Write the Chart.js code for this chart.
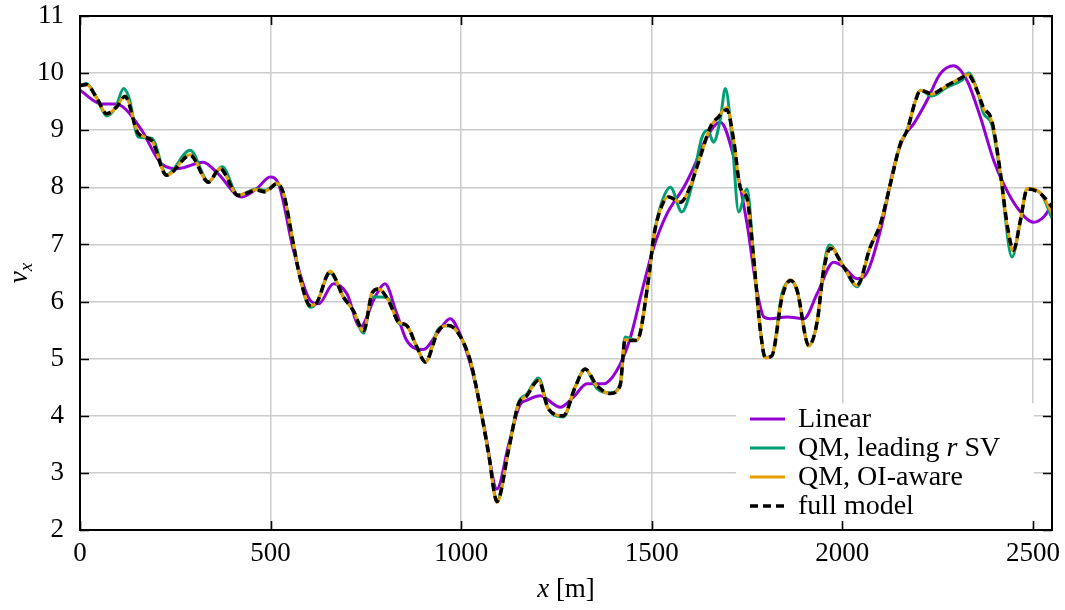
<!DOCTYPE html>
<html>
<head>
<meta charset="utf-8">
<script src="https://cdn.jsdelivr.net/npm/chart.js@4.4.1/dist/chart.umd.min.js"></script>
<style>
  html, body { margin: 0; padding: 0; background: #fff; }
  canvas { display: block; }
</style>
</head>
<body>
<canvas id="chart" width="1065" height="610"></canvas>
<script>
// Streamwise velocity v_x along the transect x [m]

// Axis ticks
const xTickValues = [0, 500, 1000, 1500, 2000, 2500];
const yTickValues = [2, 3, 4, 5, 6, 7, 8, 9, 10, 11];

// Linear reduced model
const linearX = [0, 57, 92, 118, 162, 214, 257, 323, 362, 424, 464, 499, 521, 560, 604, 626, 665, 700, 735, 774, 800, 831, 857, 901, 936, 971, 1000, 1031, 1062, 1094, 1124, 1155, 1172, 1207, 1260, 1295, 1330, 1373, 1408, 1443, 1475, 1505, 1540, 1584, 1610, 1636, 1662, 1680, 1715, 1750, 1776, 1794, 1811, 1855, 1899, 1934, 1977, 2003, 2039, 2056, 2100, 2135, 2161, 2187, 2222, 2257, 2292, 2327, 2362, 2397, 2423, 2458, 2502, 2528, 2550];
const linearV = [9.70, 9.46, 9.46, 9.38, 9.00, 8.41, 8.33, 8.44, 8.24, 7.83, 7.98, 8.18, 8.06, 6.90, 6.02, 5.96, 6.31, 6.14, 5.55, 6.08, 6.31, 5.79, 5.32, 5.16, 5.43, 5.70, 5.38, 4.73, 3.75, 2.72, 3.48, 4.20, 4.27, 4.35, 4.15, 4.33, 4.56, 4.56, 4.79, 5.35, 6.20, 6.95, 7.54, 8.00, 8.35, 8.76, 9.06, 9.14, 8.53, 7.36, 6.19, 5.73, 5.70, 5.73, 5.70, 6.14, 6.69, 6.61, 6.40, 6.43, 7.25, 8.35, 8.88, 9.11, 9.52, 9.99, 10.13, 9.87, 9.23, 8.47, 8.06, 7.65, 7.39, 7.48, 7.70];

// QM, leading r singular vectors
const leadX = [0, 17, 45, 70, 95, 114, 128, 153, 188, 227, 289, 337, 373, 415, 464, 486, 516, 534, 560, 577, 604, 621, 656, 691, 717, 744, 766, 790, 809, 836, 857, 884, 906, 940, 967, 993, 1024, 1050, 1072, 1094, 1124, 1150, 1172, 1203, 1229, 1268, 1299, 1325, 1356, 1391, 1417, 1430, 1461, 1491, 1505, 1522, 1549, 1579, 1602, 1632, 1647, 1662, 1680, 1693, 1710, 1728, 1750, 1767, 1785, 1798, 1815, 1842, 1864, 1881, 1912, 1934, 1951, 1966, 2003, 2039, 2073, 2100, 2126, 2152, 2170, 2192, 2205, 2234, 2274, 2314, 2331, 2353, 2370, 2392, 2415, 2445, 2467, 2485, 2520, 2550];
const leadV = [9.78, 9.82, 9.55, 9.25, 9.42, 9.73, 9.58, 8.88, 8.86, 8.22, 8.65, 8.10, 8.36, 7.86, 7.97, 7.95, 8.06, 7.89, 7.00, 6.43, 5.90, 5.98, 6.50, 6.08, 5.84, 5.45, 6.08, 6.08, 6.05, 5.62, 5.58, 5.20, 4.94, 5.52, 5.58, 5.44, 4.96, 4.15, 3.33, 2.52, 3.39, 4.22, 4.38, 4.66, 4.12, 3.98, 4.50, 4.82, 4.48, 4.40, 4.55, 5.38, 5.32, 6.37, 7.13, 7.65, 8.00, 7.57, 7.95, 8.88, 9.00, 8.79, 9.20, 9.73, 8.90, 7.57, 7.97, 6.80, 5.49, 5.02, 5.05, 6.15, 6.37, 6.20, 5.23, 5.65, 6.60, 6.99, 6.61, 6.26, 6.95, 7.36, 8.06, 8.76, 9.00, 9.52, 9.70, 9.60, 9.75, 9.88, 10.00, 9.72, 9.30, 9.10, 8.20, 6.78, 7.40, 7.97, 7.90, 7.46];

// QM, OI-aware
const oiX = [0, 17, 45, 70, 95, 118, 153, 188, 227, 289, 337, 367, 415, 464, 486, 516, 534, 560, 577, 604, 621, 656, 691, 717, 744, 766, 783, 809, 836, 857, 884, 906, 940, 967, 993, 1024, 1050, 1072, 1094, 1124, 1150, 1172, 1203, 1229, 1268, 1299, 1325, 1356, 1391, 1417, 1430, 1461, 1491, 1505, 1522, 1544, 1575, 1597, 1627, 1654, 1675, 1697, 1715, 1732, 1750, 1767, 1785, 1798, 1815, 1842, 1864, 1881, 1912, 1934, 1951, 1969, 2003, 2039, 2073, 2100, 2126, 2152, 2170, 2192, 2205, 2234, 2274, 2300, 2331, 2353, 2370, 2392, 2415, 2432, 2449, 2467, 2485, 2520, 2550];
const oiV = [9.78, 9.80, 9.55, 9.28, 9.40, 9.60, 8.95, 8.82, 8.21, 8.57, 8.09, 8.33, 7.86, 7.96, 7.93, 8.07, 7.89, 7.00, 6.43, 5.93, 5.98, 6.53, 6.08, 5.84, 5.48, 6.16, 6.22, 6.02, 5.64, 5.58, 5.20, 4.94, 5.50, 5.58, 5.44, 4.96, 4.15, 3.33, 2.48, 3.39, 4.20, 4.35, 4.62, 4.12, 4.00, 4.50, 4.82, 4.52, 4.39, 4.53, 5.33, 5.32, 6.37, 7.13, 7.60, 7.84, 7.74, 7.95, 8.53, 9.06, 9.24, 9.40, 8.82, 8.00, 7.80, 6.78, 5.49, 5.01, 5.05, 6.10, 6.38, 6.20, 5.22, 5.65, 6.57, 6.95, 6.61, 6.28, 6.95, 7.36, 8.06, 8.76, 9.00, 9.52, 9.70, 9.63, 9.78, 9.88, 9.97, 9.71, 9.38, 9.15, 8.23, 7.34, 6.88, 7.42, 7.98, 7.90, 7.55];

// Full model
const fullX = [0, 17, 45, 70, 95, 118, 153, 188, 227, 289, 337, 367, 415, 464, 486, 516, 534, 560, 577, 604, 621, 656, 691, 717, 744, 766, 783, 809, 836, 857, 884, 906, 940, 967, 993, 1024, 1050, 1072, 1094, 1124, 1150, 1172, 1203, 1229, 1268, 1299, 1325, 1356, 1391, 1417, 1430, 1461, 1491, 1505, 1522, 1544, 1575, 1597, 1627, 1654, 1675, 1697, 1715, 1732, 1750, 1767, 1785, 1798, 1815, 1842, 1864, 1881, 1912, 1934, 1951, 1969, 2003, 2039, 2073, 2100, 2126, 2152, 2170, 2192, 2205, 2234, 2274, 2300, 2331, 2353, 2370, 2392, 2415, 2432, 2449, 2467, 2485, 2520, 2550];
const fullV = [9.78, 9.80, 9.55, 9.29, 9.40, 9.59, 8.94, 8.82, 8.21, 8.56, 8.09, 8.33, 7.86, 7.95, 7.92, 8.06, 7.89, 7.00, 6.43, 5.93, 5.98, 6.52, 6.08, 5.84, 5.49, 6.14, 6.22, 6.02, 5.64, 5.58, 5.20, 4.94, 5.49, 5.58, 5.44, 4.96, 4.15, 3.33, 2.50, 3.39, 4.20, 4.35, 4.62, 4.12, 4.00, 4.50, 4.82, 4.53, 4.39, 4.53, 5.32, 5.32, 6.37, 7.13, 7.60, 7.83, 7.74, 7.95, 8.53, 9.06, 9.23, 9.36, 8.82, 8.00, 7.80, 6.78, 5.49, 5.02, 5.05, 6.08, 6.37, 6.20, 5.23, 5.65, 6.55, 6.93, 6.61, 6.29, 6.95, 7.36, 8.06, 8.76, 9.00, 9.52, 9.70, 9.64, 9.78, 9.87, 9.96, 9.70, 9.40, 9.17, 8.24, 7.36, 6.90, 7.42, 7.97, 7.89, 7.66];

const SERIF = '"Liberation Serif", "DejaVu Serif", serif';
const TICK_SIZE = 27;
const LEGEND_SIZE = 28;
const zip = (xs, ys) => xs.map((x, i) => ({ x: x, y: ys[i] }));

function series(label, xs, ys, color, order, extra) {
  return Object.assign({
    label: label,
    data: zip(xs, ys),
    borderColor: color,
    backgroundColor: color,
    borderWidth: 3,
    pointRadius: 0,
    pointHoverRadius: 0,
    cubicInterpolationMode: 'monotone',
    borderJoinStyle: 'round',
    fill: false,
    order: order
  }, extra || {});
}

// Frame, inward ticks, legend box and axis titles
const decorations = {
  id: 'decorations',
  afterDraw(chart) {
    const ctx = chart.ctx;
    const a = chart.chartArea;
    const xs = chart.scales.x, ys = chart.scales.y;
    ctx.save();

    // legend box
    const bx = 736, by = 403, bw = 298, bh = 124;
    ctx.fillStyle = '#ffffff';
    ctx.fillRect(bx, by, bw, bh);
    const rowY0 = 419, rowStep = 29;
    const sx0 = 750, sx1 = 785, tx = 798;
    ctx.textBaseline = 'middle';
    ctx.textAlign = 'left';
    const legendParts = [
      [['Linear', false]],
      [['QM, leading ', false], ['r', true], [' SV', false]],
      [['QM, OI-aware', false]],
      [['full model', false]]
    ];
    chart.data.datasets.forEach((ds, i) => {
      const yy = rowY0 + i * rowStep;
      ctx.strokeStyle = ds.borderColor;
      ctx.lineWidth = ds.borderWidth;
      ctx.setLineDash(ds.borderDash || []);
      ctx.beginPath();
      ctx.moveTo(sx0, yy);
      ctx.lineTo(sx1, yy);
      ctx.stroke();
      ctx.setLineDash([]);
      let cx = tx;
      ctx.fillStyle = '#000';
      legendParts[i].forEach(([txt, it]) => {
        ctx.font = (it ? 'italic ' : '') + LEGEND_SIZE + 'px ' + SERIF;
        ctx.fillText(txt, cx, yy + 1);
        cx += ctx.measureText(txt).width;
      });
    });

    // frame
    ctx.strokeStyle = '#000';
    ctx.lineWidth = 2;
    ctx.strokeRect(a.left, a.top, a.right - a.left, a.bottom - a.top);

    // inward ticks
    ctx.lineWidth = 1.6;
    const tl = 9;
    ctx.beginPath();
    yTickValues.forEach(v => {
      const p = Math.round(ys.getPixelForValue(v)) + 0.5;
      ctx.moveTo(a.left, p); ctx.lineTo(a.left + tl, p);
      ctx.moveTo(a.right, p); ctx.lineTo(a.right - tl, p);
    });
    xTickValues.forEach(v => {
      const p = Math.round(xs.getPixelForValue(v)) + 0.5;
      ctx.moveTo(p, a.bottom); ctx.lineTo(p, a.bottom - tl);
      ctx.moveTo(p, a.top); ctx.lineTo(p, a.top + tl);
    });
    ctx.stroke();

    // x-axis title: x [m]
    ctx.fillStyle = '#000';
    ctx.textBaseline = 'alphabetic';
    const cxT = (a.left + a.right) / 2;
    ctx.font = 'italic ' + TICK_SIZE + 'px ' + SERIF;
    const w1 = ctx.measureText('x').width;
    ctx.font = TICK_SIZE + 'px ' + SERIF;
    const w2 = ctx.measureText(' [m]').width;
    const sx = cxT - (w1 + w2) / 2;
    ctx.font = 'italic ' + TICK_SIZE + 'px ' + SERIF;
    ctx.fillText('x', sx, 597);
    ctx.font = TICK_SIZE + 'px ' + SERIF;
    ctx.fillText(' [m]', sx + w1, 597);

    // y-axis title: v_x
    ctx.save();
    ctx.translate(27, (a.top + a.bottom) / 2);
    ctx.rotate(-Math.PI / 2);
    ctx.font = 'italic ' + TICK_SIZE + 'px ' + SERIF;
    const vw = ctx.measureText('v').width;
    ctx.font = 'italic 19px ' + SERIF;
    const xw = ctx.measureText('x').width;
    const s0 = -(vw + xw) / 2;
    ctx.font = 'italic ' + TICK_SIZE + 'px ' + SERIF;
    ctx.fillText('v', s0, 0);
    ctx.font = 'italic 19px ' + SERIF;
    ctx.fillText('x', s0 + vw, 5);
    ctx.restore();

    ctx.restore();
  }
};

new Chart(document.getElementById('chart'), {
  type: 'line',
  data: {
    datasets: [
      series('Linear', linearX, linearV, '#9400d3', 3),
      series('QM, leading r SV', leadX, leadV, '#009e73', 2),
      series('QM, OI-aware', oiX, oiV, '#e69f00', 1),
      series('full model', fullX, fullV, '#000000', 0, { borderDash: [8, 5], borderWidth: 3.5 })
    ]
  },
  options: {
    responsive: false,
    animation: false,
    devicePixelRatio: 1,
    events: [],
    layout: { padding: { top: 16, right: 13, left: 0, bottom: 0 } },
    plugins: {
      legend: { display: false },
      tooltip: { enabled: false }
    },
    scales: {
      x: {
        type: 'linear',
        min: 0,
        max: 2550,
        afterBuildTicks(scale) { scale.ticks = xTickValues.map(v => ({ value: v })); },
        afterFit(scale) { scale.height = 80; scale.paddingLeft = 0; scale.paddingRight = 0; },
        grid: { color: '#cccccc', lineWidth: 1.5, drawTicks: false },
        border: { display: false },
        ticks: {
          color: '#000',
          font: { family: SERIF, size: TICK_SIZE },
          padding: 8,
          maxRotation: 0,
          autoSkip: false,
          callback: v => String(v)
        }
      },
      y: {
        type: 'linear',
        min: 2,
        max: 11,
        afterBuildTicks(scale) { scale.ticks = yTickValues.map(v => ({ value: v })); },
        afterFit(scale) { scale.width = 80; scale.paddingTop = 0; scale.paddingBottom = 0; },
        grid: { color: '#cccccc', lineWidth: 1.5, drawTicks: false },
        border: { display: false },
        ticks: {
          color: '#000',
          font: { family: SERIF, size: TICK_SIZE },
          padding: 16,
          autoSkip: false,
          callback: v => String(v)
        }
      }
    }
  },
  plugins: [decorations]
});
</script>
</body>
</html>
